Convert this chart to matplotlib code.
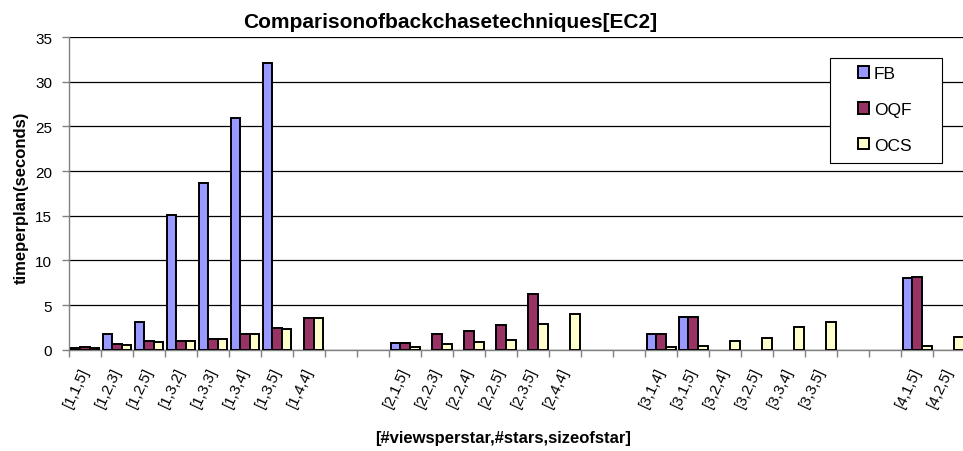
import matplotlib.pyplot as plt
import matplotlib.patches as mpatches
import numpy as np

plt.rcParams['font.family'] = ['Liberation Sans', 'DejaVu Sans']

# categories, '' marks the empty slots between groups
categories = ['[1,1,5]', '[1,2,3]', '[1,2,5]', '[1,3,2]', '[1,3,3]', '[1,3,4]', '[1,3,5]', '[1,4,4]',
              '', '',
              '[2,1,5]', '[2,2,3]', '[2,2,4]', '[2,2,5]', '[2,3,5]', '[2,4,4]',
              '', '',
              '[3,1,4]', '[3,1,5]', '[3,2,4]', '[3,2,5]', '[3,3,4]', '[3,3,5]',
              '', '',
              '[4,1,5]', '[4,2,5]']

fb = [0.2, 1.8, 3.1, 15.1, 18.7, 25.95, 32.07, 0,
      0, 0,
      0.72, 0, 0, 0, 0, 0,
      0, 0,
      1.72, 3.66, 0, 0, 0, 0,
      0, 0,
      8.06, 0]
oqf = [0.27, 0.64, 0.94, 0.97, 1.2, 1.8, 2.4, 3.58,
       0, 0,
       0.78, 1.72, 2.13, 2.77, 6.27, 0,
       0, 0,
       1.79, 3.66, 0, 0, 0, 0,
       0, 0,
       8.14, 0]
ocs = [0.2, 0.53, 0.86, 0.97, 1.15, 1.76, 2.32, 3.51,
       0, 0,
       0.34, 0.67, 0.83, 1.12, 2.88, 3.96,
       0, 0,
       0.3, 0.38, 0.94, 1.28, 2.58, 3.14,
       0, 0,
       0.38, 1.42]

series = [('FB', fb, '#9999FF'), ('OQF', oqf, '#993366'), ('OCS', ocs, '#FFFFCC')]

fig = plt.figure(figsize=(9.63, 4.52), dpi=100)
ax = fig.add_axes([69/963, 1-350.7/452, (965.3-69)/963, (350.7-38)/452])

x = np.arange(len(categories))
w = 0.3
for i, (name, vals, col) in enumerate(series):
    vals = np.array(vals, dtype=float)
    m = vals > 0
    ax.bar(x[m] + (i-1)*w, vals[m], width=w, color=col, edgecolor='black', linewidth=1.4, zorder=3)

ax.set_xlim(-0.5, len(categories)-0.5)
ax.set_ylim(0, 35)
ax.set_yticks(range(0, 36, 5))
ax.yaxis.grid(True, color='black', linewidth=0.9, zorder=0)
ax.set_axisbelow(True)

# ticks between categories, labels at the centres
ax.set_xticks(np.arange(len(categories)+1) - 0.5)
ax.set_xticklabels([])
ax.set_xticks(x, minor=True)
ax.set_xticklabels(categories, minor=True, rotation=65, ha='right', va='center',
                   rotation_mode='anchor', fontsize=11)
ax.tick_params(axis='x', which='minor', length=0, pad=13)
ax.tick_params(axis='x', which='major', length=5, color='#808080', width=1)
ax.tick_params(axis='y', length=5, color='#808080', width=1, labelsize=11, pad=7)

for s in ['top', 'right']:
    ax.spines[s].set_visible(False)
for s in ['left', 'bottom']:
    ax.spines[s].set_color('#808080')
    ax.spines[s].set_linewidth(1)

fig.text(450/963, 1-22/452, 'Comparisonofbackchasetechniques[EC2]', ha='center', va='center',
         fontsize=15, fontweight='bold')
fig.text(503/963, 1-439/452, '[#viewsperstar,#stars,sizeofstar]', ha='center', va='center',
         fontsize=12, fontweight='bold')
fig.text(21/963, 1-198/452, 'timeperplan(seconds)', ha='center', va='center', rotation=90,
         fontsize=12, fontweight='bold')

# legend box drawn separately, it is wider than the entries
fig.patches.append(mpatches.Rectangle((830/963, 1-164/452), 112/963, 105/452,
                                      transform=fig.transFigure, facecolor='white',
                                      edgecolor='black', linewidth=0.8, zorder=4))
handles = [mpatches.Patch(facecolor=c, edgecolor='black', linewidth=1.4, label=n) for n, v, c in series]
leg = fig.legend(handles=handles, loc='upper left', bbox_to_anchor=(858/963, 1-67/452),
                 fontsize=12.5, frameon=False, handlelength=0.65, handleheight=0.65,
                 handletextpad=0.25, labelspacing=1.2, borderpad=0, borderaxespad=0)
leg.set_zorder(5)

fig.savefig('out.png', dpi=100)
